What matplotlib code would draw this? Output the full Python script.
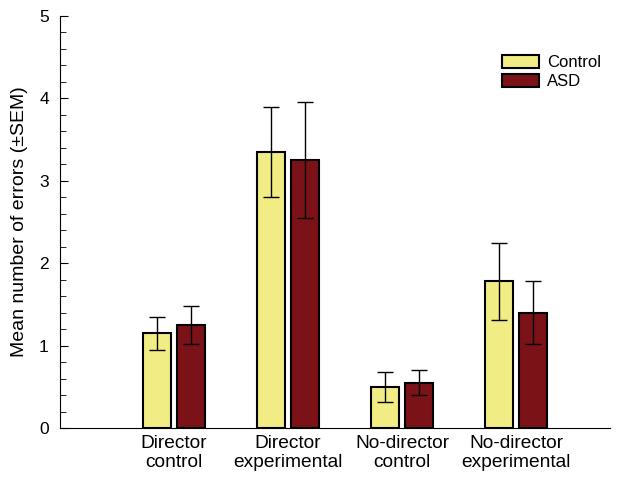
import matplotlib.pyplot as plt
import numpy as np
from matplotlib.ticker import MultipleLocator

plt.rcParams['font.family'] = ['Liberation Sans', 'DejaVu Sans']

conditions = ['Director\ncontrol', 'Director\nexperimental', 'No-director\ncontrol', 'No-director\nexperimental']
control_mean = [1.15, 3.35, 0.50, 1.78]
control_sem = [0.20, 0.55, 0.18, 0.47]
asd_mean = [1.25, 3.25, 0.55, 1.40]
asd_sem = [0.23, 0.70, 0.15, 0.38]

x = np.arange(len(conditions))
w = 0.245
off = 0.149

fig = plt.figure(figsize=(6.26, 4.8), dpi=100)
ax = fig.add_axes([0.0958, 0.108, 0.974 - 0.0958, 0.967 - 0.108])

err_kw = dict(ecolor='black', elinewidth=1, capsize=6, capthick=1)
ax.bar(x - off, control_mean, w, yerr=control_sem, color='#F2EC85', edgecolor='black',
       linewidth=1.5, label='Control', error_kw=err_kw)
ax.bar(x + off, asd_mean, w, yerr=asd_sem, color='#7B1218', edgecolor='black',
       linewidth=1.5, label='ASD', error_kw=err_kw)

ax.set_xlim(-1.0, 3.82)
ax.set_ylim(0, 5)
ax.set_xticks(x)
ax.set_xticklabels(conditions, fontsize=13.8, linespacing=1.15)
ax.tick_params(axis='x', length=0, pad=5)
ax.yaxis.set_major_locator(MultipleLocator(1))
ax.yaxis.set_minor_locator(MultipleLocator(0.2))
ax.tick_params(axis='y', which='major', direction='in', length=6, labelsize=12.5, pad=8)
ax.tick_params(axis='y', which='minor', direction='in', length=4)
ax.spines['top'].set_visible(False)
ax.spines['right'].set_visible(False)
ax.set_ylabel('Mean number of errors (\u00b1SEM)', fontsize=14, labelpad=8)

fig.legend(loc='upper left', bbox_to_anchor=(502 / 626, 1 - 55 / 480), frameon=False,
           fontsize=12, borderpad=0, borderaxespad=0,
           handlelength=2.2, handleheight=0.8, labelspacing=0.25, handletextpad=0.5)

plt.savefig('out.png', dpi=100)
